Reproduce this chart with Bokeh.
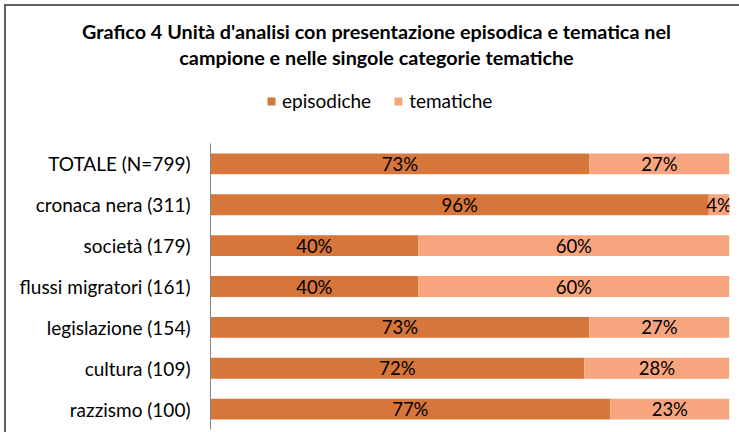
from bokeh.plotting import figure
from bokeh.layouts import column
from bokeh.models import (FactorRange, Range1d, ColumnDataSource, Label,
                          Legend, LegendItem, LabelSet)
from bokeh.embed import file_html
from bokeh.resources import INLINE
from bokeh.core.properties import value

categories = ["TOTALE (N=799)", "cronaca nera (311)", "società (179)",
              "flussi migratori (161)", "legislazione (154)", "cultura (109)",
              "razzismo (100)"]
episodiche = [73, 96, 40, 40, 73, 72, 77]
tematiche = [27, 4, 60, 60, 27, 28, 23]
series = ["episodiche", "tematiche"]
colors = ["#D6763A", "#F6A57F"]
title_lines = ["Grafico 4 Unità d'analisi con presentazione episodica e tematica nel",
               "campione e nelle singole categorie tematiche"]

FONT = "Lato"
W = 739
BORDER = "#5f5f5f"

# ---------- header: title + legend ----------
head = figure(width=W, height=143, x_range=Range1d(0, W), y_range=Range1d(143, 0),
              output_backend="svg", toolbar_location=None, frame_align=False,
              min_border_left=0, min_border_right=0, min_border_top=0, min_border_bottom=0,
              styles={"box-shadow": f"inset 4px 4px 0 0 #ffffff, inset 6px 6px 0 0 {BORDER}"})
head.axis.visible = False
head.grid.visible = False
head.outline_line_color = None
head.background_fill_alpha = 0
head.border_fill_alpha = 0

for i, line in enumerate(title_lines):
    head.add_layout(Label(x=376, y=30 + 26 * i, text=line, text_align="center",
                          text_baseline="middle", text_font=FONT,
                          text_font_size="19.8px", text_font_style="bold",
                          text_color="#000000"))

# legend swatches (renderers placed outside the visible range)
dummy = [head.hbar(y=[-50], right=[1], height=1, color=c, line_color=None) for c in colors]
legend = Legend(items=[LegendItem(label=s, renderers=[r]) for s, r in zip(series, dummy)],
                orientation="horizontal", location=(266, 31),
                glyph_width=10, glyph_height=10, label_standoff=6, spacing=22,
                padding=0, margin=0, border_line_color=None,
                background_fill_alpha=0, label_text_font=FONT,
                label_text_font_size="19px", label_text_color="#000000",
                label_height=20)
head.add_layout(legend, "center")

# ---------- bars ----------
source = ColumnDataSource(dict(cat=categories, episodiche=episodiche, tematiche=tematiche))

p = figure(width=W, height=289,
           y_range=FactorRange(factors=categories[::-1]),
           x_range=Range1d(0, 100),
           output_backend="svg", toolbar_location=None, frame_align=False,
           min_border_left=210, min_border_right=10,
           min_border_top=0, min_border_bottom=3,
           styles={"box-shadow": f"inset 4px 0 0 0 #ffffff, inset 6px 0 0 0 {BORDER}"})
p.background_fill_alpha = 0
p.border_fill_alpha = 0

p.hbar_stack(series, y="cat", height=0.51, color=colors, line_color=None, source=source)

lab_x, lab_y, lab_t = [], [], []
for c, e, t in zip(categories, episodiche, tematiche):
    lab_x += [e / 2, e + t / 2]
    lab_y += [c, c]
    lab_t += [f"{e}%", f"{t}%"]
lsrc = ColumnDataSource(dict(x=lab_x, y=lab_y, t=lab_t))
p.add_layout(LabelSet(x="x", y="y", text="t", source=lsrc, text_align="center",
                      text_baseline="middle", text_font=value(FONT),
                      text_font_size="18.5px", text_color="#000000"))

p.xaxis.visible = False
p.xgrid.visible = False
p.ygrid.visible = False
p.outline_line_color = None

ax = p.yaxis[0]
ax.axis_line_color = "#868686"
ax.axis_line_width = 1
ax.major_tick_line_color = None
ax.minor_tick_line_color = None
ax.major_tick_out = 0
ax.major_tick_in = 0
ax.major_label_standoff = 20
ax.major_label_text_font = FONT
ax.major_label_text_font_size = "19px"
ax.major_label_text_color = "#000000"

layout = column(head, p, spacing=0)

open("out.html", "w").write(file_html(layout, INLINE))
